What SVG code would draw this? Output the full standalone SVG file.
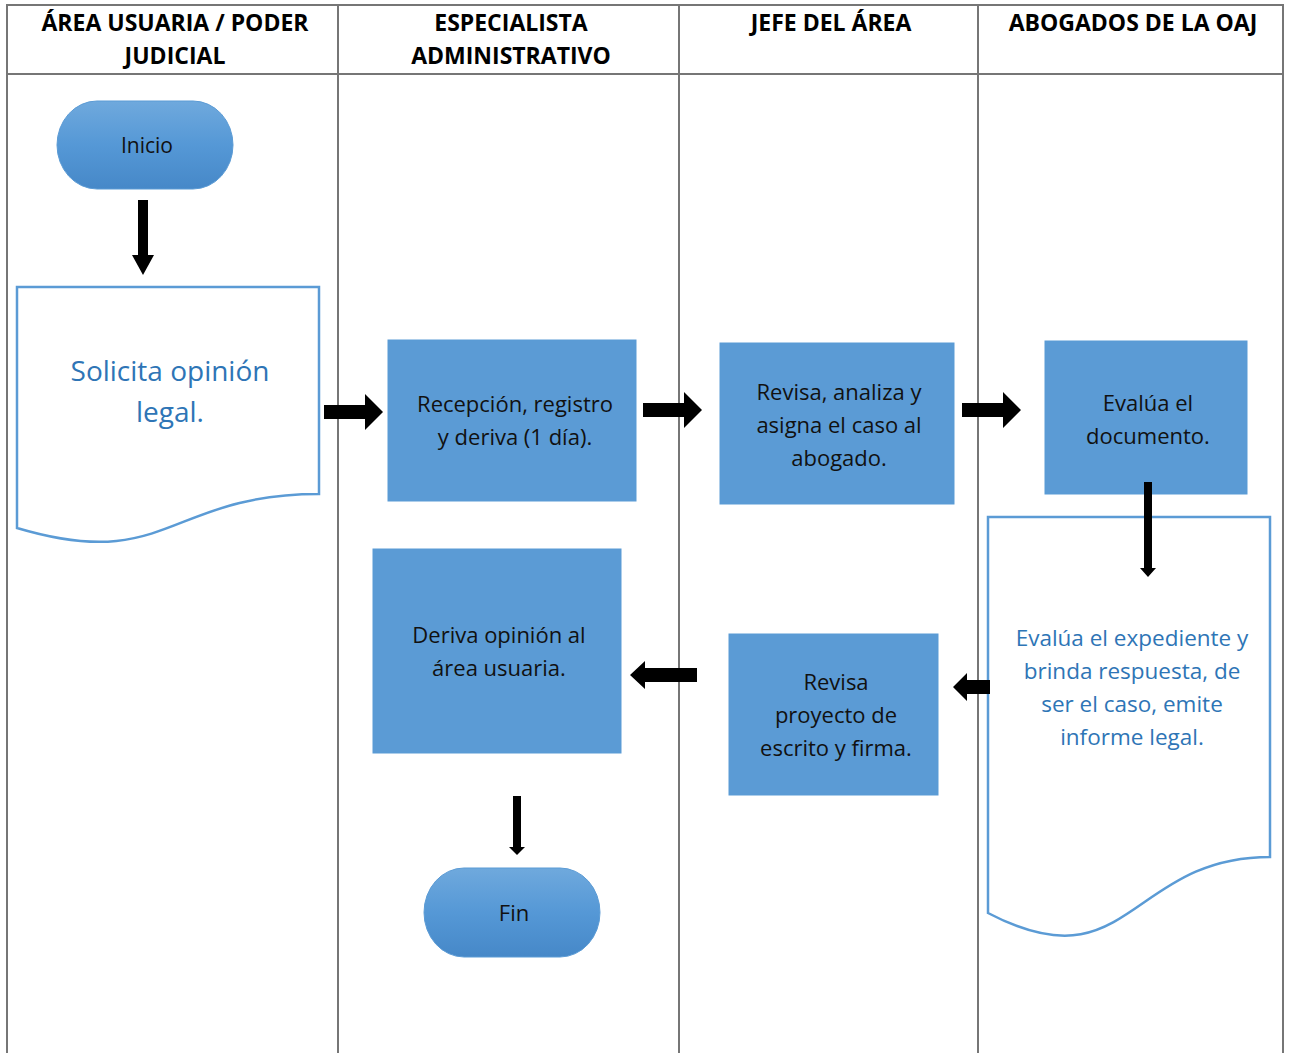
<svg xmlns="http://www.w3.org/2000/svg" width="1291" height="1053" viewBox="0 0 1291 1053">
<defs>
<linearGradient id="term" x1="0" y1="0" x2="0" y2="1">
<stop offset="0" stop-color="#6fa9dd"/>
<stop offset="0.5" stop-color="#5598d6"/>
<stop offset="1" stop-color="#4688c8"/>
</linearGradient>
<style>
.grid{stroke:#767676;stroke-width:2;fill:none}
.hdr{font-family:"Open Sans","DejaVu Sans",sans-serif;font-weight:bold;font-size:23px;fill:#000;text-anchor:middle}
.box{fill:#5b9bd5;stroke:#5b9bd5;stroke-width:1}
.term{fill:url(#term);stroke:#5b9bd5;stroke-width:1}
.doc{fill:#fff;stroke:#5b9bd5;stroke-width:2.5}
.t{font-family:"Open Sans","DejaVu Sans",sans-serif;font-size:22px;fill:#111;text-anchor:middle}
.dt{font-family:"Open Sans","DejaVu Sans",sans-serif;font-size:22.5px;fill:#2e75b6;text-anchor:middle}
.arr{fill:#000}
</style>
</defs>
<rect width="1291" height="1053" fill="#fff"/>
<g id="table">
<path class="grid" d="M7,1053 V5 H1283 V1053 M7,74 H1283 M338,5 V1053 M679,5 V1053 M978,5 V1053"/>
<text class="hdr" x="175" y="31">ÁREA USUARIA / PODER</text>
<text class="hdr" x="175" y="64">JUDICIAL</text>
<text class="hdr" x="511" y="31">ESPECIALISTA</text>
<text class="hdr" x="511" y="64">ADMINISTRATIVO</text>
<text class="hdr" x="831" y="31">JEFE DEL ÁREA</text>
<text class="hdr" x="1133" y="31">ABOGADOS DE LA OAJ</text>
</g>
<g id="inicio">
<rect class="term" x="57" y="101" width="176" height="88" rx="40" ry="44"/>
<text class="t" style="font-size:21px" x="147" y="153">Inicio</text>
</g>
<g id="solicita">
<path class="doc" d="M17,287 H319 V494 C168,494 168,573 17,528 Z"/>
<text class="dt" style="font-size:28px" x="170" y="381">Solicita opinión</text>
<text class="dt" style="font-size:28px" x="170" y="422">legal.</text>
</g>
<g id="recepcion">
<rect class="box" x="388" y="340" width="248" height="161"/>
<text class="t" x="515" y="412">Recepción, registro</text>
<text class="t" x="515" y="445">y deriva (1 día).</text>
</g>
<g id="revisa-analiza">
<rect class="box" x="720" y="343" width="234" height="161"/>
<text class="t" x="839" y="400">Revisa, analiza y</text>
<text class="t" x="839" y="433">asigna el caso al</text>
<text class="t" x="839" y="466">abogado.</text>
</g>
<g id="evalua-documento">
<rect class="box" x="1045" y="341" width="202" height="153"/>
<text class="t" x="1148" y="411">Evalúa el</text>
<text class="t" x="1148" y="444">documento.</text>
</g>
<g id="evalua-expediente">
<path class="doc" d="M988,517 H1270 V857 C1129,857 1129,987 988,913 Z"/>
<text class="dt" x="1132" y="646">Evalúa el expediente y</text>
<text class="dt" x="1132" y="679">brinda respuesta, de</text>
<text class="dt" x="1132" y="712">ser el caso, emite</text>
<text class="dt" x="1132" y="745">informe legal.</text>
</g>
<g id="revisa-proyecto">
<rect class="box" x="729" y="634" width="209" height="161"/>
<text class="t" x="836" y="690">Revisa</text>
<text class="t" x="836" y="723">proyecto de</text>
<text class="t" x="836" y="756">escrito y firma.</text>
</g>
<g id="deriva">
<rect class="box" x="373" y="549" width="248" height="204"/>
<text class="t" x="499" y="643">Deriva opinión al</text>
<text class="t" x="499" y="676">área usuaria.</text>
</g>
<g id="fin">
<rect class="term" x="424" y="868" width="176" height="89" rx="40" ry="44.5"/>
<text class="t" x="514" y="921">Fin</text>
</g>
<g id="connectors">
<polygon class="arr" points="138,200 148,200 148,255 154,255 143,275 132,255 138,255"/>
<polygon class="arr" points="324,405 365,405 365,394 383,412 365,430 365,419 324,419"/>
<polygon class="arr" points="643,403 684,403 684,392 702,410 684,428 684,417 643,417"/>
<polygon class="arr" points="962,403 1003,403 1003,392 1021,410 1003,428 1003,417 962,417"/>
<polygon class="arr" points="1144,482 1152,482 1152,568 1156,568 1148,577 1140,568 1144,568"/>
<polygon class="arr" points="990,680 967,680 967,673 953,687 967,701 967,694 990,694"/>
<polygon class="arr" points="697,668 645,668 645,661 630,675 645,689 645,682 697,682"/>
<polygon class="arr" points="513,796 521,796 521,847 525,847 517,855 509,847 513,847"/>
</g>
</svg>
